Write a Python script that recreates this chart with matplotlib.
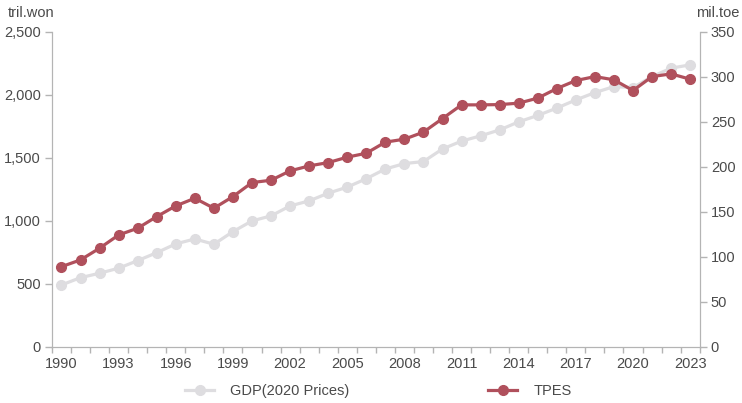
import matplotlib
matplotlib.use("Agg")
import matplotlib.pyplot as plt
from matplotlib.ticker import FuncFormatter, MultipleLocator

# data
years = list(range(1990, 2024))
gdp = [492, 550, 585, 625, 685, 748, 818, 857, 815, 915,
       1000, 1040, 1119, 1159, 1220, 1268, 1335, 1412, 1455, 1471,
       1571, 1633, 1675, 1722, 1786, 1837, 1895, 1960, 2018, 2066,
       2058, 2145, 2212, 2238]
tpes = [89.2, 96.7, 109.7, 124.4, 131.9, 144.8, 156.7, 165.2, 154.1, 167.0,
        182.6, 185.2, 195.6, 201.1, 204.8, 210.8, 215.2, 227.5, 230.8, 238.6,
        253.7, 268.9, 268.9, 269.2, 270.8, 276.4, 287.0, 295.9, 300.3, 296.7,
        284.8, 300.3, 303.3, 297.4]
label_years = years[::3]

gdp_color = "#dedde0"
tpes_color = "#b0505c"
axis_color = "#b4b4b4"
text_color = "#4a4a4a"

plt.rcParams["font.family"] = ["Liberation Sans", "DejaVu Sans"]

fig = plt.figure(figsize=(7.42, 4.03), dpi=100)
ax = fig.add_axes([0.070, 0.139, 0.873, 0.782])
ax2 = ax.twinx()

x = list(range(len(years)))
l1, = ax.plot(x, gdp, color=gdp_color, lw=2.3, marker="o", ms=7,
              label="GDP(2020 Prices)", zorder=2)
l2, = ax2.plot(x, tpes, color=tpes_color, lw=2.3, marker="o", ms=7,
               label="TPES", zorder=3)

ax.set_xlim(-0.5, len(years) - 0.5)
ax.set_ylim(0, 2500)
ax2.set_ylim(0, 350)

# ticks at category boundaries, labels at category centres
ax.set_xticks([i - 0.5 for i in range(len(years) + 1)], minor=True)
ax.set_xticks([years.index(y) for y in label_years])
ax.set_xticklabels([str(y) for y in label_years])
ax.tick_params(axis="x", which="major", length=0, pad=7)
ax.tick_params(axis="x", which="minor", length=4, color=axis_color, width=1)

ax.yaxis.set_major_locator(MultipleLocator(500))
ax.yaxis.set_major_formatter(FuncFormatter(lambda v, p: f"{int(v):,}"))
ax2.yaxis.set_major_locator(MultipleLocator(50))

for a in (ax, ax2):
    for s in a.spines.values():
        s.set_color(axis_color)
    a.spines["top"].set_visible(False)
    a.tick_params(axis="both", colors=text_color, labelsize=10.5)
    a.tick_params(axis="y", length=5, color=axis_color, width=1, pad=3)

ax.tick_params(axis="x", which="minor", color=axis_color)

fig.text(0.011, 0.968, "tril.won", ha="left", va="center",
         fontsize=10.5, color=text_color)
fig.text(0.997, 0.968, "mil.toe", ha="right", va="center",
         fontsize=10.5, color=text_color)

fig.legend(handles=[l1, l2], loc="center", bbox_to_anchor=(0.51, 0.03),
           ncol=2, frameon=False, fontsize=10.5, handlelength=2.0,
           handletextpad=1.1, columnspacing=9.5, labelcolor=text_color)

fig.savefig("out.png", dpi=100)
